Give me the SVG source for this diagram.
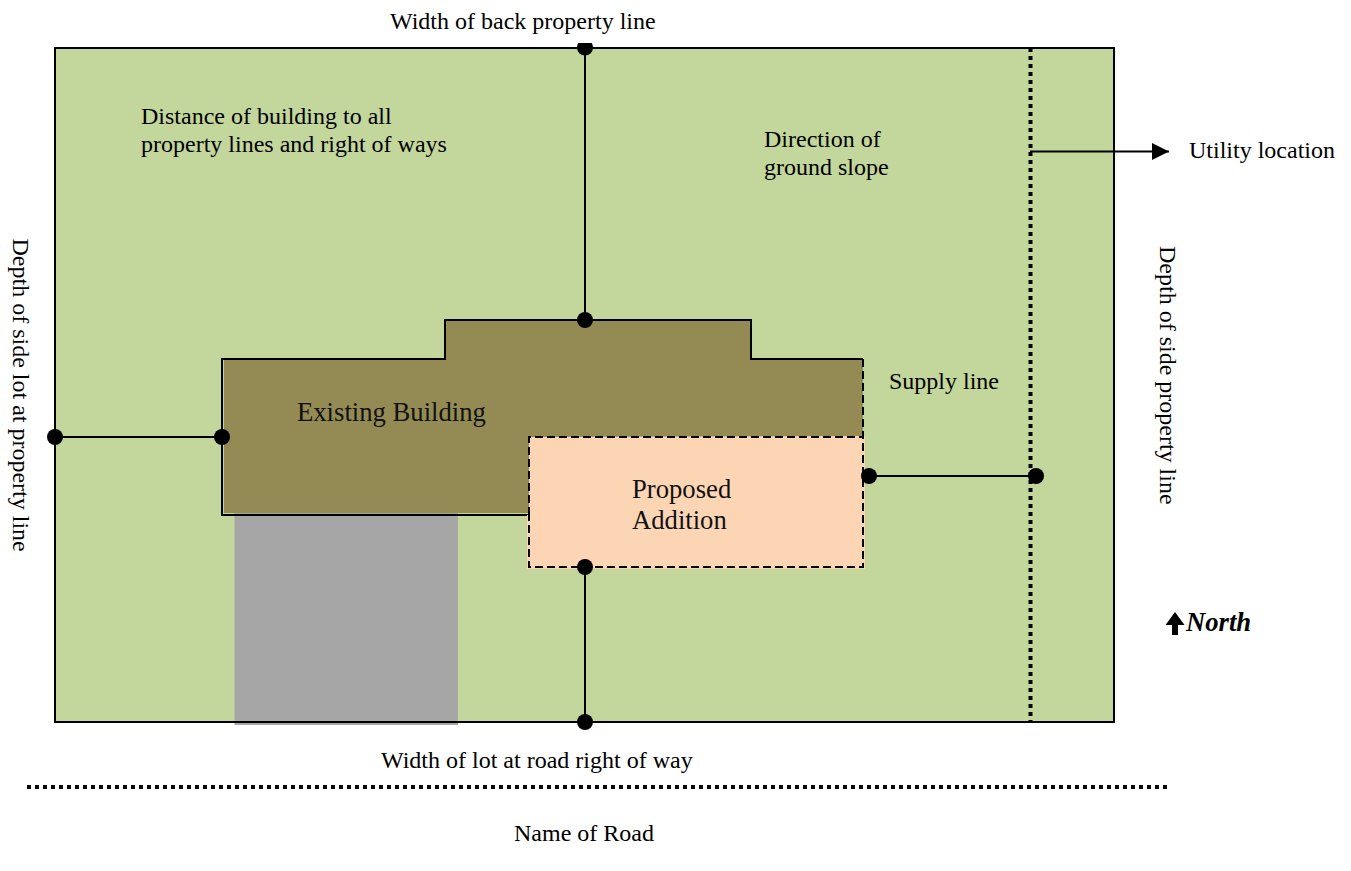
<svg xmlns="http://www.w3.org/2000/svg" width="1351" height="871" viewBox="0 0 1351 871">
<style>
text{font-family:"Liberation Serif","Times New Roman",serif;fill:#000}
.s{font-size:24px}
.b{font-size:26.67px;fill:#111}
.ln{fill:none;stroke:#000;stroke-width:2}
.dot{fill:#000}
.dotted{fill:none;stroke:#000;stroke-width:4;stroke-dasharray:4 4}
</style>
<defs>
<marker id="ah" markerUnits="userSpaceOnUse" markerWidth="17" markerHeight="17" refX="17" refY="8.5" orient="auto"><path d="M0,0 L17,8.5 L0,17 Z" fill="#000"/></marker>
<clipPath id="topclip"><rect x="570" y="43" width="30" height="20"/></clipPath>
</defs>
<rect width="1351" height="871" fill="#fff"/>
<g id="lot"><rect x="55" y="48" width="1059" height="674" fill="#c3d69b" stroke="#000" stroke-width="2"/></g>
<g id="driveway"><rect x="234.500" y="513" width="223.500" height="212" fill="#a6a6a6"/><path d="M55,722H1114" class="ln"/></g>
<g id="existing-building"><path d="M224,360H446V321H751V359H863V437H529V513H224Z" fill="#948a54"/><path d="M863,359H751V320H445V359H222V515H529" class="ln"/><text class="b" x="297" y="421">Existing Building</text></g>
<g id="proposed-addition"><path d="M529,437L865,436V569H527V515H529Z" fill="#fcd5b5"/><path d="M529,515V437H863M863,359V567H529V515" fill="none" stroke="#000" stroke-width="2" stroke-dasharray="8 4"/><text class="b" x="632" y="498">Proposed</text><text class="b" x="632" y="529">Addition</text></g>
<g id="connectors">
<path d="M585,48V320M55,437H222M869,476H1036M585,567V722" class="ln"/>
<path d="M1030.500,48V722M27,787H1167" class="dotted"/>
<path d="M1030,151.500H1169" class="ln" marker-end="url(#ah)"/>
<circle class="dot" cx="585" cy="47.500" r="8" clip-path="url(#topclip)"/><circle class="dot" cx="585" cy="320" r="8"/>
<circle class="dot" cx="55" cy="437" r="8"/><circle class="dot" cx="222" cy="437" r="8"/>
<circle class="dot" cx="869" cy="476" r="8"/><circle class="dot" cx="1036" cy="476" r="8"/>
<circle class="dot" cx="585" cy="567" r="8"/><circle class="dot" cx="585" cy="722" r="8"/>
</g>
<g id="labels">
<text class="s" x="390" y="29">Width of back property line</text>
<text class="s" x="141" y="124">Distance of building to all</text>
<text class="s" x="141" y="152">property lines and right of ways</text>
<text class="s" x="764" y="147">Direction of</text>
<text class="s" x="764" y="175">ground slope</text>
<text class="s" x="1189" y="158">Utility location</text>
<text class="s" x="889" y="389">Supply line</text>
<text class="s" x="381" y="768">Width of lot at road right of way</text>
<text class="s" x="514" y="841">Name of Road</text>
<text class="s" transform="translate(13,238.500) rotate(90)">Depth of side lot at property line</text>
<text class="s" transform="translate(1160,246) rotate(90)">Depth of side property line</text>
</g>
<g id="north"><path d="M1175,612L1184.500,625H1178V635H1172V625H1165.500Z" fill="#000"/><text x="1186" y="631" style="font-size:26.67px;font-weight:bold;font-style:italic">North</text></g>
</svg>
